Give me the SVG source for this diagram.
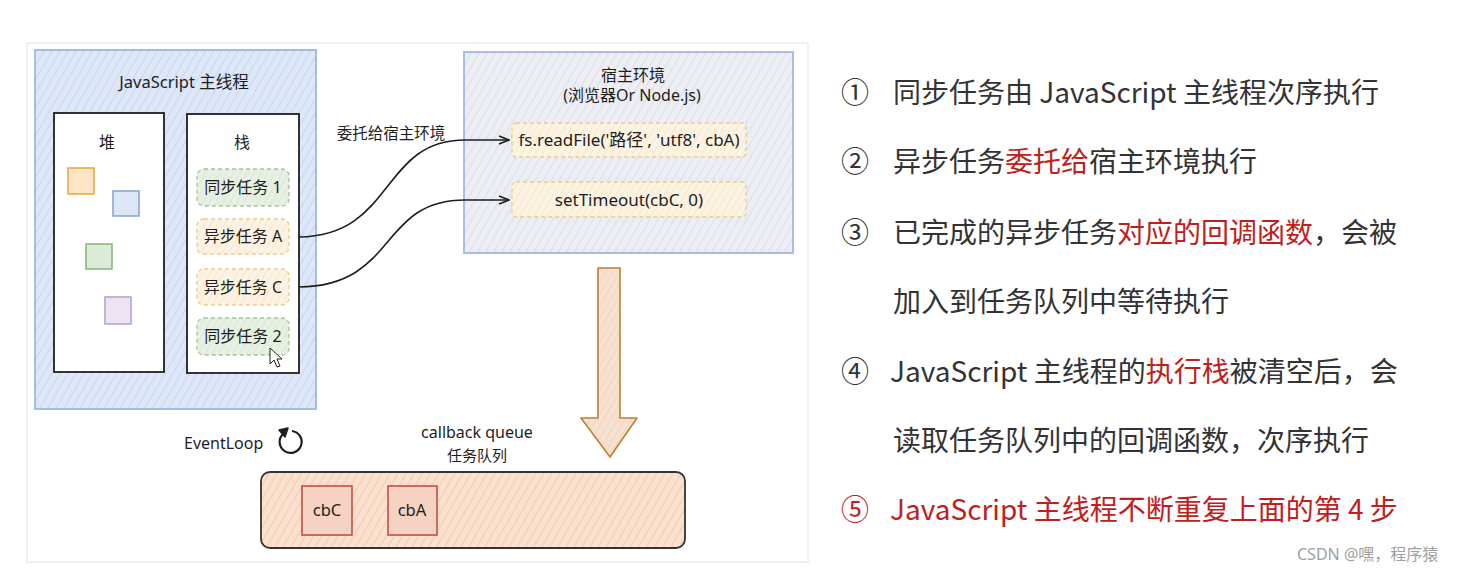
<svg xmlns="http://www.w3.org/2000/svg" width="1483" height="576" viewBox="0 0 1483 576">
<style>
.t{font-family:"Noto Sans","Noto Sans CJK SC",sans-serif;fill:#1e1e1e}
.r{font-family:"Noto Sans CJK SC","Noto Sans",sans-serif;font-size:28px;fill:#333}
.red{fill:#c0201c}
.box{stroke:#1e1e1e;stroke-width:1.8;fill:#fff}
.conn{fill:none;stroke:#1e1e1e;stroke-width:1.6}
</style>
<defs>
<pattern id="hBlue" width="7" height="7" patternUnits="userSpaceOnUse" patternTransform="rotate(30)"><rect width="7" height="7" fill="#dde7f7"/><line x1="0" y1="0" x2="0" y2="7" stroke="#bccdeb" stroke-width="1.3"/></pattern>
<pattern id="hGray" width="7" height="7" patternUnits="userSpaceOnUse" patternTransform="rotate(30)"><rect width="7" height="7" fill="#eceef3"/><line x1="0" y1="0" x2="0" y2="7" stroke="#d2d6df" stroke-width="1.3"/></pattern>
<pattern id="hPeach" width="7" height="7" patternUnits="userSpaceOnUse" patternTransform="rotate(30)"><rect width="7" height="7" fill="#fae0cf"/><line x1="0" y1="0" x2="0" y2="7" stroke="#f3c09e" stroke-width="1.4"/></pattern>
<pattern id="hGreen" width="6" height="6" patternUnits="userSpaceOnUse" patternTransform="rotate(30)"><rect width="6" height="6" fill="#e7f0e3"/><line x1="0" y1="0" x2="0" y2="6" stroke="#d2e3cb" stroke-width="1.2"/></pattern>
<pattern id="hYellow" width="6" height="6" patternUnits="userSpaceOnUse" patternTransform="rotate(30)"><rect width="6" height="6" fill="#fcf3e2"/><line x1="0" y1="0" x2="0" y2="6" stroke="#f3e2c2" stroke-width="1.2"/></pattern>
<pattern id="hArrow" width="6" height="6" patternUnits="userSpaceOnUse" patternTransform="rotate(30)"><rect width="6" height="6" fill="#f6e0d0"/><line x1="0" y1="0" x2="0" y2="6" stroke="#eecdb4" stroke-width="1.2"/></pattern>
<marker id="arr" viewBox="0 0 12 12" refX="11" refY="6" markerWidth="12" markerHeight="12" markerUnits="userSpaceOnUse" orient="auto">
<path d="M1,2 L11,6 L1,10" fill="none" stroke="#1e1e1e" stroke-width="1.5"/>
</marker>
</defs>

<rect x="0" y="0" width="1483" height="576" fill="#fff"/>
<rect x="27" y="43" width="781" height="519" fill="#fff" stroke="#ebebeb" stroke-width="1.5"/>

<g id="main-thread">
<rect x="35" y="50" width="281" height="359" fill="url(#hBlue)" stroke="#a3bde6" stroke-width="2"/>
<text class="t" x="184" y="88" font-size="16.5" text-anchor="middle">JavaScript 主线程</text>
</g>

<g id="heap">
<rect class="box" x="54" y="113" width="110" height="259"/>
<text class="t" x="107" y="148" font-size="16" text-anchor="middle">堆</text>
<rect x="68" y="168" width="26" height="26" fill="#fbe5c4" stroke="#e8a53e" stroke-width="1.5"/>
<rect x="113" y="191" width="26" height="25" fill="#dde6f5" stroke="#86a3d3" stroke-width="1.5"/>
<rect x="86" y="244" width="26" height="25" fill="#dcebd5" stroke="#86b379" stroke-width="1.5"/>
<rect x="105" y="297" width="26" height="27" fill="#ede4f2" stroke="#b59dc8" stroke-width="1.5"/>
</g>

<g id="stack">
<rect class="box" x="187" y="114" width="112" height="259"/>
<text class="t" x="242" y="148" font-size="16" text-anchor="middle">栈</text>
</g>

<g id="sync1">
<rect x="197" y="169" width="92" height="37" rx="7" fill="url(#hGreen)" stroke="#a6c49a" stroke-width="1.3" stroke-dasharray="4 3"/>
<text class="t" x="243" y="193" font-size="16" text-anchor="middle">同步任务 1</text>
</g>
<g id="asyncA">
<rect x="197" y="219" width="92" height="35" rx="7" fill="url(#hYellow)" stroke="#e9cd8a" stroke-width="1.3" stroke-dasharray="4 3"/>
<text class="t" x="243" y="242" font-size="16" text-anchor="middle">异步任务 A</text>
</g>
<g id="asyncC">
<rect x="197" y="269" width="92" height="36" rx="7" fill="url(#hYellow)" stroke="#e9cd8a" stroke-width="1.3" stroke-dasharray="4 3"/>
<text class="t" x="243" y="293" font-size="16" text-anchor="middle">异步任务 C</text>
</g>
<g id="sync2">
<rect x="197" y="318" width="92" height="37" rx="7" fill="url(#hGreen)" stroke="#a6c49a" stroke-width="1.3" stroke-dasharray="4 3"/>
<text class="t" x="243" y="342" font-size="16" text-anchor="middle">同步任务 2</text>
</g>

<g id="cursor">
<path d="M270,348 L270,364 L274,360 L277,367 L280,366 L277,359 L282,359 Z" fill="#fff" stroke="#1e1e1e" stroke-width="1"/>
</g>

<g id="host">
<rect x="464" y="52" width="329" height="201" fill="url(#hGray)" stroke="#a9bde0" stroke-width="2"/>
<text class="t" x="633" y="81" font-size="16" text-anchor="middle">宿主环境</text>
<text class="t" x="632" y="101" font-size="16" text-anchor="middle">(浏览器Or Node.js)</text>
</g>
<g id="readfile">
<rect x="512" y="123" width="234" height="34" rx="4" fill="url(#hYellow)" stroke="#e9cd8a" stroke-width="1.3" stroke-dasharray="4 3"/>
<text class="t" x="629" y="146" font-size="17" text-anchor="middle">fs.readFile('路径', 'utf8', cbA)</text>
</g>
<g id="settimeout">
<rect x="512" y="182" width="234" height="35" rx="4" fill="url(#hYellow)" stroke="#e9cd8a" stroke-width="1.3" stroke-dasharray="4 3"/>
<text class="t" x="629" y="206" font-size="17" text-anchor="middle">setTimeout(cbC, 0)</text>
</g>

<g id="connectors">
<path class="conn" d="M299,237 C395,236 380,140 465,140 L509,140" marker-end="url(#arr)"/>
<path class="conn" d="M299,287 C398,286 378,200 465,200 L509,200" marker-end="url(#arr)"/>
<text class="t" x="391" y="139" font-size="15.5" text-anchor="middle">委托给宿主环境</text>
</g>

<g id="down-arrow">
<path d="M598,268 L620,268 L620,418 L637,418 L610,457 L581,418 L598,418 Z" fill="url(#hArrow)" stroke="#c47c35" stroke-width="1.6" stroke-linejoin="round"/>
</g>

<g id="eventloop">
<text class="t" x="184" y="449" font-size="16">EventLoop</text>
<path d="M283,434 A11,11 0 1,0 292,431" fill="none" stroke="#1e1e1e" stroke-width="2.2"/>
<path d="M279,430 L288,428 L285,437 Z" fill="#1e1e1e" stroke="#1e1e1e" stroke-width="1.5" stroke-linejoin="round"/>
</g>

<g id="callback-queue">
<text class="t" x="477" y="438" font-size="16" text-anchor="middle">callback queue</text>
<text class="t" x="477" y="461" font-size="15" text-anchor="middle">任务队列</text>
<rect x="261" y="472" width="424" height="76" rx="9" fill="url(#hPeach)" stroke="#333" stroke-width="1.8"/>
</g>
<g id="cbC">
<rect x="302" y="486" width="50" height="49" fill="#f5d2c2" stroke="#c0473b" stroke-width="1.5"/>
<text class="t" x="327" y="516" font-size="16.5" text-anchor="middle">cbC</text>
</g>
<g id="cbA">
<rect x="388" y="486" width="49" height="49" fill="#f5d2c2" stroke="#c0473b" stroke-width="1.5"/>
<text class="t" x="412" y="516" font-size="16.5" text-anchor="middle">cbA</text>
</g>

<g id="notes">
<text class="r" x="841" y="103">①</text>
<text class="r" x="893" y="103">同步任务由 JavaScript 主线程次序执行</text>
<text class="r" x="841" y="172">②</text>
<text class="r" x="893" y="172">异步任务<tspan class="red">委托给</tspan>宿主环境执行</text>
<text class="r" x="841" y="243">③</text>
<text class="r" x="893" y="243">已完成的异步任务<tspan class="red">对应的回调函数</tspan>，会被</text>
<text class="r" x="893" y="312">加入到任务队列中等待执行</text>
<text class="r" x="841" y="382">④</text>
<text class="r" x="890" y="382">JavaScript 主线程的<tspan class="red">执行栈</tspan>被清空后，会</text>
<text class="r" x="893" y="451">读取任务队列中的回调函数，次序执行</text>
<text class="r red" x="841" y="520">⑤</text>
<text class="r red" x="890" y="520">JavaScript 主线程不断重复上面的第 4 步</text>
</g>

<text x="1297" y="560" font-family="'Noto Sans','Noto Sans CJK SC',sans-serif" font-size="16" fill="#a0a0a0">CSDN @嘿，程序猿</text>
</svg>
